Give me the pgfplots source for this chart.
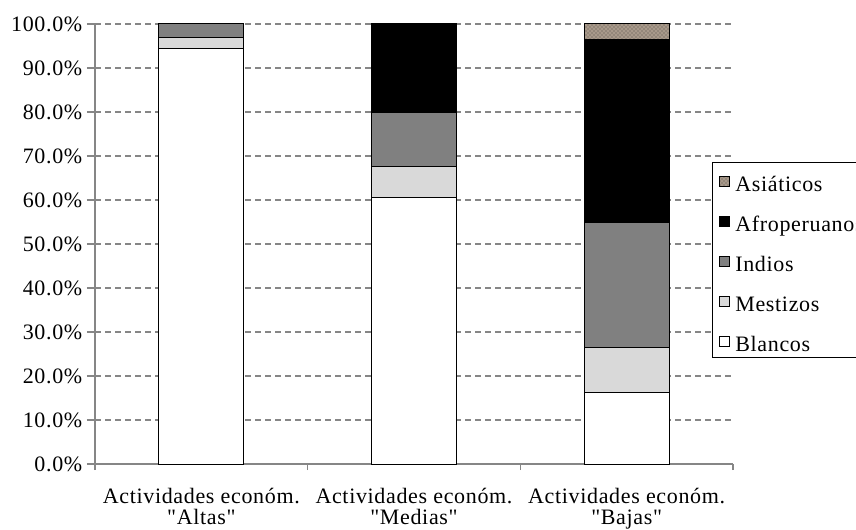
\documentclass[border=0pt]{standalone}
\usepackage{fontspec}
\setmainfont[LetterSpace=3, Ligatures=TeXOff]{Liberation Serif}
\usepackage{pgfplots}
\pgfplotsset{compat=1.18}
\usetikzlibrary{patterns}

\definecolor{mestizo}{RGB}{217,217,217}
\definecolor{indio}{RGB}{128,128,128}
\definecolor{asia}{RGB}{168,153,138}
\definecolor{axisgray}{RGB}{134,134,134}

% shares per group (%), categories: Altas, Medias, Bajas
\pgfplotstableread{
x blancos mestizos indios afro asiaticos
0 94.4 2.5 3.1 0.0 0.0
1 60.5 7.2 12.1 20.2 0.0
2 16.2 10.3 28.5 41.4 3.6
}\datos

\newcommand{\lbl}{\fontsize{16.5pt}{16pt}\selectfont}

\begin{document}
\begin{tikzpicture}
\useasboundingbox (0,0) rectangle (642pt,396.75pt);
\begin{axis}[
  at={(71.25pt,48.75pt)}, anchor=south west,
  scale only axis,
  width=478.5pt, height=330pt,
  ybar stacked,
  bar width=63.75pt,
  xmin=-0.5, xmax=2.5,
  ymin=0, ymax=100,
  axis x line*=bottom, axis y line*=left,
  axis line style={draw=axisgray, line width=1.1pt, -},
  xtick={0,1,2},
  xticklabels={{Actividades económ.\\"Altas"},{Actividades económ.\\"Medias"},{Actividades económ.\\"Bajas"}},
  xticklabel style={align=center, font=\fontsize{16.5pt}{16pt}\selectfont, yshift=-8.5pt},
  major x tick style={draw=none},
  minor xtick={-0.5,0.5,1.5,2.5},
  minor x tick style={draw=axisgray, line width=1pt},
  minor tick length=4.5pt,
  ytick={0,10,...,100},
  yticklabel={\pgfmathprintnumber[fixed,fixed zerofill,precision=1]{\tick}\%},
  yticklabel style={font=\lbl},
  /pgf/number format/assume math mode=true,
  major y tick style={draw=axisgray, line width=1pt},
  major tick length=6pt,
  tick align=outside,
  ymajorgrids=true,
  grid style={draw=axisgray, dashed, dash pattern=on 4.5pt off 3pt, line width=0.8pt},
  reverse legend,
  legend style={at={(0.967,0.686)}, anchor=north west, draw=black, line width=0.75pt,
    font=\lbl, inner sep=2pt, row sep=7.75pt,
    nodes={text height=19.75pt, text depth=2.5pt, inner sep=0pt, line width=0.5pt},
    /tikz/every odd column/.style={column sep=4pt}},
  legend cell align=left,
  legend image code/.code={\path (0pt,0pt);
    \draw[#1, draw=black, line width=0.6pt] (3pt,-5pt) rectangle (10.5pt,2.5pt);},
  every axis plot/.append style={draw=black, line width=0.75pt},
]
\addplot[fill=white] table[x=x, y=blancos] {\datos};
\addlegendentry{Blancos}
\addplot[fill=mestizo] table[x=x, y=mestizos] {\datos};
\addlegendentry{Mestizos}
\addplot[fill=indio] table[x=x, y=indios] {\datos};
\addlegendentry{Indios}
\addplot[fill=black] table[x=x, y=afro] {\datos};
\addlegendentry{Afroperuanos}
\addplot[fill=asia, postaction={pattern=crosshatch dots, pattern color=asia!50!black}] table[x=x, y=asiaticos] {\datos};
\addlegendentry{Asiáticos}
\end{axis}
\end{tikzpicture}
\end{document}
